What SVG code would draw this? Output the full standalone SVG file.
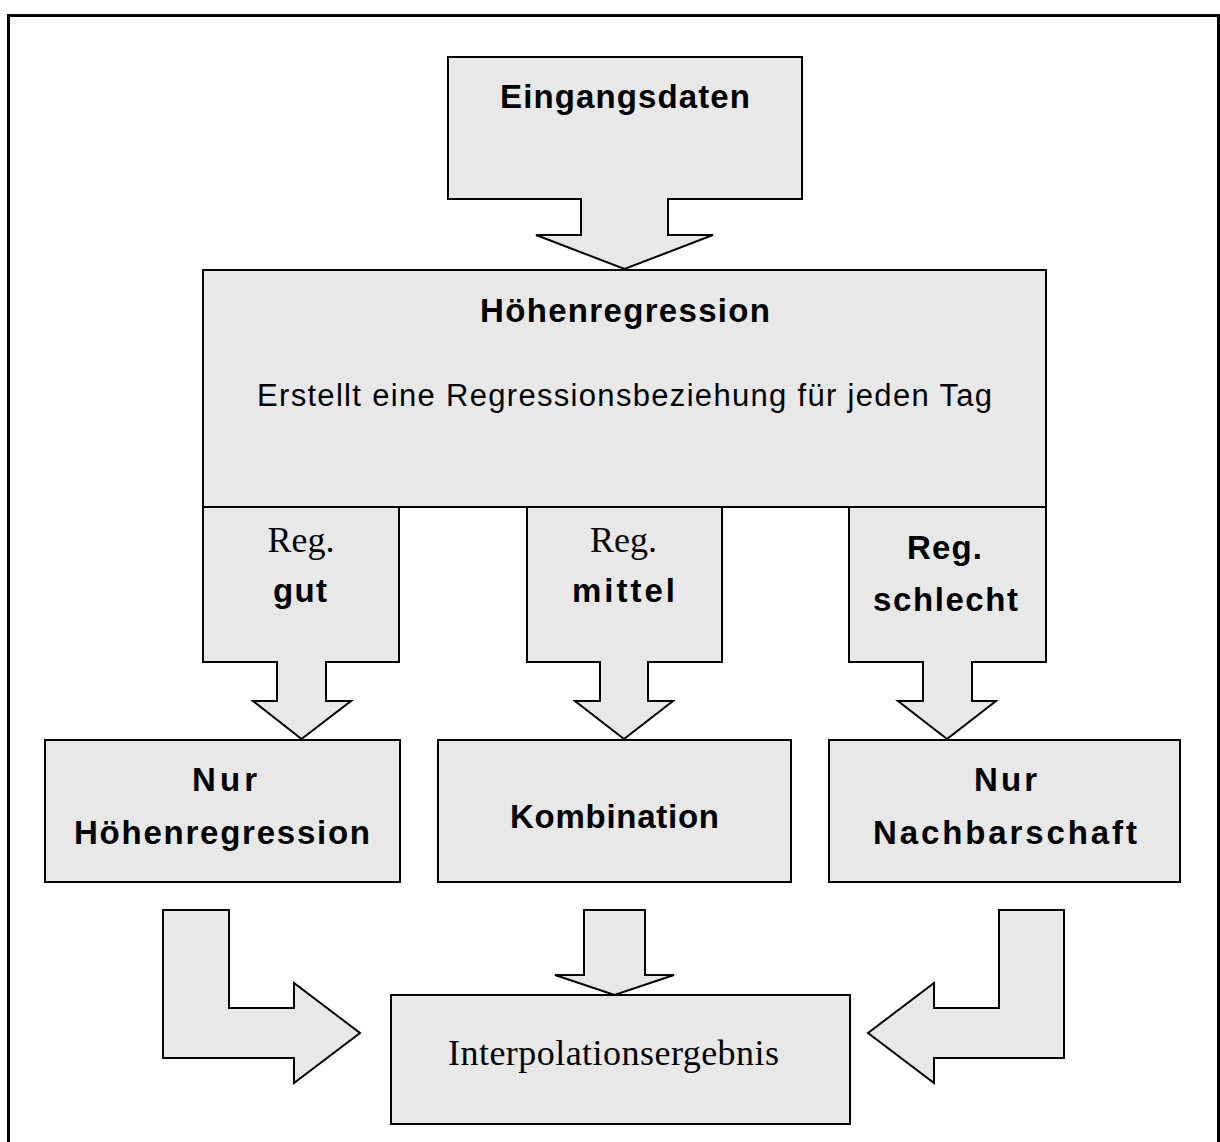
<svg xmlns="http://www.w3.org/2000/svg" width="1220" height="1142" viewBox="0 0 1220 1142">
<style>
.s{fill:#e8e8e8;stroke:#000;stroke-width:2;stroke-linejoin:miter}
.b{font-family:"Liberation Sans",Arial,sans-serif;font-weight:bold;font-size:33px;fill:#000}
.r{font-family:"Liberation Sans",Arial,sans-serif;font-size:31px;fill:#000}
.t{font-family:"Liberation Serif","Times New Roman",serif;font-size:36px;fill:#000}
</style>
<rect x="8.5" y="15.5" width="1210" height="1140" fill="#fff" stroke="#000" stroke-width="3"/>
<g id="eingangsdaten">
<polygon class="s" points="448,57 802,57 802,199 668,199 668,235 713,235 624.5,269 536,235 581,235 581,199 448,199"/>
<text class="b" x="500" y="108" textLength="250" lengthAdjust="spacing">Eingangsdaten</text>
</g>
<g id="hoehenregression">
<rect class="s" x="203" y="270" width="843" height="237"/>
<text class="b" x="480" y="322" textLength="290" lengthAdjust="spacing">Höhenregression</text>
<text class="r" x="257" y="406" textLength="735" lengthAdjust="spacing">Erstellt eine Regressionsbeziehung für jeden Tag</text>
</g>
<g id="connectors">
<g id="reg-gut">
<polygon class="s" points="203,507 399,507 399,662 326,662 326,701 351,701 301.5,739 253,701 277,701 277,662 203,662"/>
<text class="t" x="301" y="552" text-anchor="middle">Reg.</text>
<text class="b" x="273" y="602" textLength="54" lengthAdjust="spacing">gut</text>
</g>
<g id="reg-mittel">
<polygon class="s" points="527,507 722,507 722,662 648,662 648,701 673,701 624,739 575,701 600,701 600,662 527,662"/>
<text class="t" x="623.5" y="552" text-anchor="middle">Reg.</text>
<text class="b" x="572" y="602" textLength="103" lengthAdjust="spacing">mittel</text>
</g>
<g id="reg-schlecht">
<polygon class="s" points="849,507 1046,507 1046,662 972,662 972,701 996,701 947,739 898,701 923,701 923,662 849,662"/>
<text class="b" x="907" y="559" textLength="75" lengthAdjust="spacing">Reg.</text>
<text class="b" x="873" y="611" textLength="145" lengthAdjust="spacing">schlecht</text>
</g>
<polygon class="s" points="163,910 229,910 229,1008 294,1008 294,983 360,1033 294,1083 294,1058 163,1058"/>
<polygon class="s" points="584,910 645,910 645,975 674,975 614.5,995 555,975 584,975"/>
<polygon class="s" points="1064,910 999,910 999,1008 934,1008 934,983 868,1033 934,1083 934,1058 1064,1058"/>
</g>
<g id="nur-hoehenregression">
<rect class="s" x="45" y="740" width="355" height="142"/>
<text class="b" x="192" y="791" textLength="65" lengthAdjust="spacing">Nur</text>
<text class="b" x="74" y="844" textLength="296" lengthAdjust="spacing">Höhenregression</text>
</g>
<g id="kombination">
<rect class="s" x="438" y="740" width="353" height="142"/>
<text class="b" x="510" y="828" textLength="209" lengthAdjust="spacing">Kombination</text>
</g>
<g id="nur-nachbarschaft">
<rect class="s" x="829" y="740" width="351" height="142"/>
<text class="b" x="974" y="791" textLength="63" lengthAdjust="spacing">Nur</text>
<text class="b" x="873" y="844" textLength="264" lengthAdjust="spacing">Nachbarschaft</text>
</g>
<g id="interpolationsergebnis">
<rect class="s" x="391" y="995" width="459" height="129"/>
<text class="t" x="448" y="1065" font-size="37" textLength="331" lengthAdjust="spacing">Interpolationsergebnis</text>
</g>
</svg>
